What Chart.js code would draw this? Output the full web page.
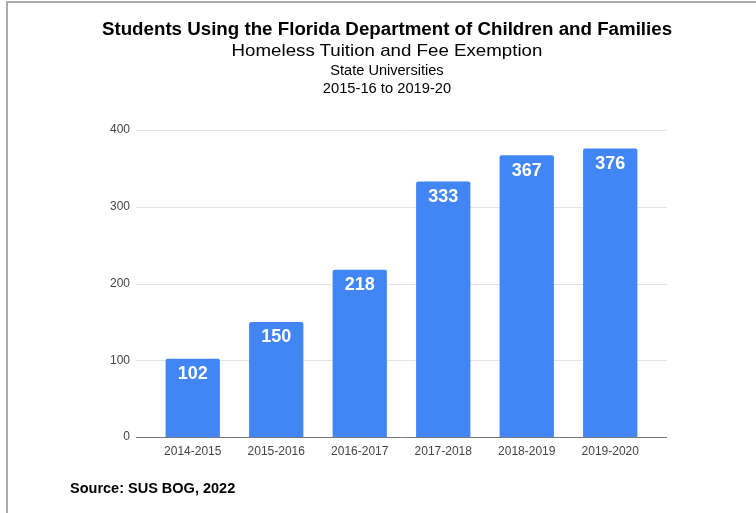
<!DOCTYPE html>
<html>
<head>
<meta charset="utf-8">
<script src="https://cdn.jsdelivr.net/npm/chart.js@4"></script>
<style>
  html, body { margin: 0; padding: 0; background: #fff; width: 756px; height: 513px; overflow: hidden; font-family: "Liberation Sans", Arial, sans-serif; }
  #frame { position: absolute; left: 6px; top: 1px; width: 780px; height: 540px; border-left: 2px solid #ababab; border-top: 2px solid #ababab; }
  .t { position: absolute; left: 0; width: 774px; text-align: center; color: #000; white-space: nowrap; transform-origin: 387px 50%; }
  #t1 { top: 19px; font-size: 17.5px; font-weight: bold; line-height: 20px; transform: scaleX(1.07); }
  #t2 { top: 41px; font-size: 17px; line-height: 20px; transform: scaleX(1.1); }
  #t3 { top: 62px; font-size: 14px; line-height: 16px; transform: scaleX(1.04); }
  #t4 { top: 80px; font-size: 14px; line-height: 16px; transform: scaleX(1.05); }
  #src { position: absolute; left: 70px; top: 480px; font-size: 14.5px; font-weight: bold; line-height: 16px; color: #000; white-space: nowrap; }
  #wrap { position: absolute; left: 0; top: 0; width: 756px; height: 513px; }
</style>
</head>
<body>
<div id="frame"></div>
<div id="wrap"><canvas id="c" width="756" height="513"></canvas></div>
<div class="t" id="t1">Students Using the Florida Department of Children and Families</div>
<div class="t" id="t2">Homeless Tuition and Fee Exemption</div>
<div class="t" id="t3">State Universities</div>
<div class="t" id="t4">2015-16 to 2019-20</div>
<div id="src">Source: SUS BOG, 2022</div>
<script>
const categories = ["2014-2015", "2015-2016", "2016-2017", "2017-2018", "2018-2019", "2019-2020"];
const students = [102, 150, 218, 333, 367, 376];
const yTicks = [0, 100, 200, 300, 400];

const gridPlugin = {
  id: 'extGrid',
  beforeDatasetsDraw(chart) {
    const { ctx, chartArea, scales } = chart;
    const left = chartArea.left - 15, right = chartArea.right + 15;
    ctx.save();
    yTicks.forEach(v => {
      const y = Math.round(scales.y.getPixelForValue(v)) + 0.5;
      ctx.beginPath();
      ctx.lineWidth = 1;
      ctx.strokeStyle = v === 0 ? '#777777' : '#e3e3e3';
      ctx.moveTo(left, y);
      ctx.lineTo(right, y);
      ctx.stroke();
    });
    ctx.restore();
  }
};

const labelPlugin = {
  id: 'barLabels',
  afterDatasetsDraw(chart) {
    const { ctx } = chart;
    const meta = chart.getDatasetMeta(0);
    ctx.save();
    ctx.fillStyle = '#ffffff';
    ctx.font = 'bold 18px "Liberation Sans", Arial, sans-serif';
    ctx.textAlign = 'center';
    ctx.textBaseline = 'middle';
    meta.data.forEach((bar, i) => {
      ctx.fillText(String(students[i]), bar.x, bar.y + 15.5);
    });
    ctx.restore();
  }
};

new Chart(document.getElementById('c'), {
  type: 'bar',
  data: {
    labels: categories,
    datasets: [{
      data: students,
      backgroundColor: '#4285f4',
      borderRadius: 2,
      borderSkipped: 'bottom',
      barPercentage: 0.65,
      categoryPercentage: 1.0
    }]
  },
  options: {
    responsive: false,
    animation: false,
    devicePixelRatio: 1,
    layout: { padding: { left: 0, right: 104, top: 130, bottom: 46 } },
    plugins: { legend: { display: false }, tooltip: { enabled: false }, title: { display: false } },
    scales: {
      x: {
        grid: { display: false, drawTicks: false },
        border: { display: false },
        ticks: { color: '#444444', font: { family: '"Liberation Sans", Arial, sans-serif', size: 12 }, padding: 7, maxRotation: 0 },
        afterFit(s) { s.height = 30; }
      },
      y: {
        min: 0, max: 400,
        grid: { display: false, drawTicks: false },
        border: { display: false },
        ticks: { stepSize: 100, color: '#444444', font: { family: '"Liberation Sans", Arial, sans-serif', size: 12 }, padding: 21 },
        afterFit(s) { s.width = 151; }
      }
    }
  },
  plugins: [gridPlugin, labelPlugin]
});
</script>
</body>
</html>
